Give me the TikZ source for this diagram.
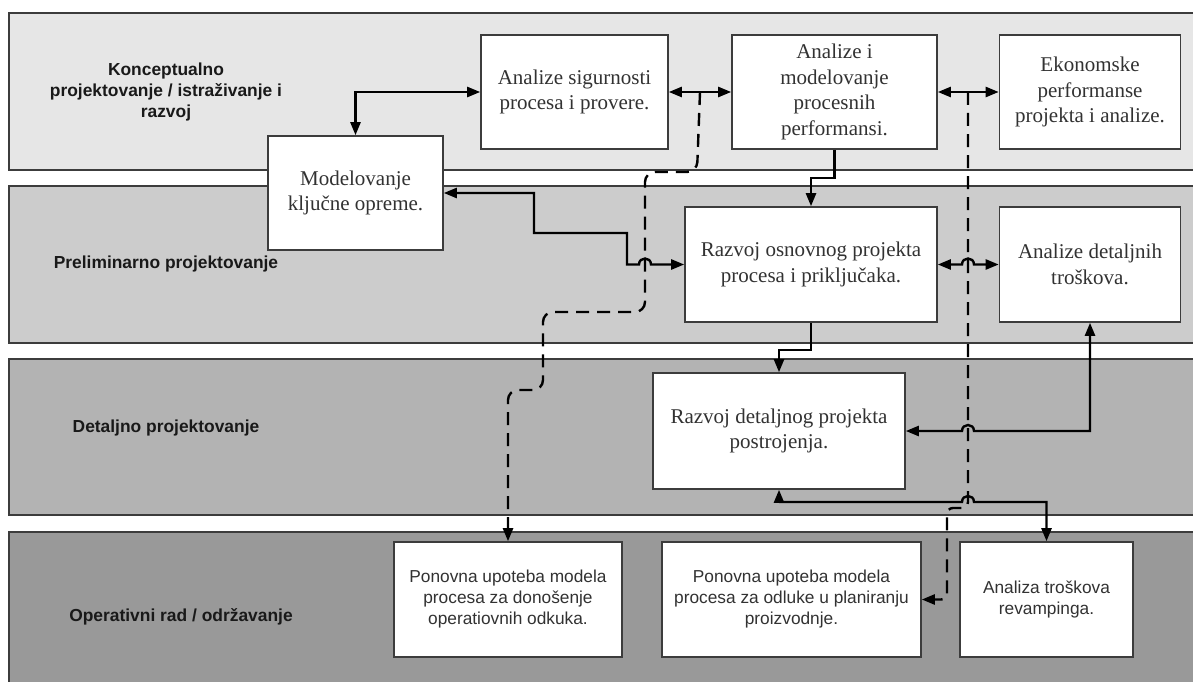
\documentclass[tikz,border=0pt]{standalone}
\usepackage{fontspec}
\setmainfont{Liberation Serif}
\setsansfont{Liberation Sans}
\usetikzlibrary{arrows.meta}
\definecolor{bandA}{RGB}{230,230,230}
\definecolor{bandB}{RGB}{204,204,204}
\definecolor{bandC}{RGB}{179,179,179}
\definecolor{bandD}{RGB}{153,153,153}
\definecolor{edgegray}{RGB}{60,60,60}
\definecolor{txtgray}{RGB}{50,50,50}
\definecolor{labblack}{RGB}{25,25,25}
\begin{document}
\begin{tikzpicture}[x=1pt,y=-1pt,
  band/.style={draw=edgegray,line width=1.5pt},
  lab/.style={font=\sffamily\bfseries\fontsize{17.4}{21}\selectfont,text=labblack,align=center,inner sep=0pt},
  sbox/.style={draw=edgegray,fill=white,line width=1.6pt,align=center,inner sep=0pt,
    font=\fontsize{21}{25.5}\selectfont,text=txtgray},
  abox/.style={draw=edgegray,fill=white,line width=1.6pt,align=center,inner sep=0pt,
    font=\sffamily\fontsize{17.3}{21}\selectfont,text=txtgray},
  arr/.style={line width=2.4pt,-{Triangle[length=13pt,width=10pt]}},
  dbl/.style={line width=2.4pt,{Triangle[length=13pt,width=10pt]}-{Triangle[length=13pt,width=10pt]}},
  dsh/.style={line width=2.4pt,dash pattern=on 13pt off 8pt,rounded corners=10pt,-{Triangle[length=13pt,width=10pt]}}
]
\useasboundingbox (0,0) rectangle (1193,682);
\fill[white] (0,0) rectangle (1193,682);
% bands
\draw[band,fill=bandA] (9,13) rectangle (1215,170);
\draw[band,fill=bandB] (9,186) rectangle (1215,343);
\draw[band,fill=bandC] (9,359) rectangle (1215,515);
\draw[band,fill=bandD] (9,532) rectangle (1215,700);
% band labels
\node[lab] (l1) at (166,92) {Konceptualno\\projektovanje / istraživanje i\\razvoj};
\node[lab] (l2) at (166,264) {Preliminarno projektovanje};
\node[lab] (l3) at (166,428) {Detaljno projektovanje};
\node[lab] (l4) at (181,617) {Operativni rad / održavanje};
% boxes
\node[sbox,minimum width=187pt,minimum height=114pt] (sig) at (574.5,92) {Analize sigurnosti\\procesa i provere.};
\node[sbox,minimum width=205pt,minimum height=114pt] (anm) at (834.5,92) {Analize i\\modelovanje\\procesnih\\performansi.};
\node[sbox,minimum width=181pt,minimum height=114pt] (eko) at (1090,92) {Ekonomske\\performanse\\projekta i analize.};
\node[sbox,minimum width=175pt,minimum height=114pt] (mod) at (355.5,193) {Modelovanje\\ključne opreme.};
\node[sbox,minimum width=252pt,minimum height=115pt] (raz) at (811,264.5) {Razvoj osnovnog projekta\\procesa i priključaka.};
\node[sbox,minimum width=181pt,minimum height=115pt] (adt) at (1090,264.5) {Analize detaljnih\\troškova.};
\node[sbox,minimum width=252pt,minimum height=116pt] (rdp) at (779,431) {Razvoj detaljnog projekta\\postrojenja.};
\node[abox,minimum width=228pt,minimum height=115pt] (pu1) at (508,599.5) {Ponovna upoteba modela\\procesa za donošenje\\operatiovnih odkuka.};
\node[abox,minimum width=259pt,minimum height=115pt] (pu2) at (791.5,599.5) {Ponovna upoteba modela\\procesa za odluke u planiranju\\proizvodnje.};
\node[abox,minimum width=173pt,minimum height=115pt] (atr) at (1046.5,599.5) {Analiza troškova\\revampinga.};
% junctions
\coordinate (j1) at (700,92);
\coordinate (j2) at (968,92);
% dashed connectors
\draw[dsh] (j1) -- (697,172) -- (645,172) -- (645,312) -- (543,312) -- (543,390) -- (508,390) -- (pu1.north);
\draw[dsh,rounded corners=6pt] (j2) -- (968,508) -- (947,508) -- (947,599.5) -- (pu2.east);
% solid connectors
\draw[dbl] (sig.west) -| (mod.north);
\draw[dbl] (sig.east) -- (anm.west);
\draw[dbl] (anm.east) -- (eko.west);
\draw[arr] (anm.south) -- (834.5,178) -| (raz.north);
\draw[arr] (raz.south) -- (811,350) -| (rdp.north);
\draw[dbl] (mod.east) -- (534,193) -- (534,233) -- (627,233) -- (627,264.5) -- (639,264.5)
   .. controls (639,256.5) and (651,256.5) .. (651,264.5) -- (raz.west);
\draw[dbl] (raz.east) -- (962,264.5) .. controls (962,256.5) and (974,256.5) .. (974,264.5) -- (adt.west);
\draw[dbl] (adt.south) -- (1090,431) -- (974,431) .. controls (974,423) and (962,423) .. (962,431) -- (rdp.east);
\draw[dbl] (rdp.south) -- (779,502) -- (962,502) .. controls (962,494) and (974,494) .. (974,502) -| (atr.north);
\end{tikzpicture}
\end{document}
